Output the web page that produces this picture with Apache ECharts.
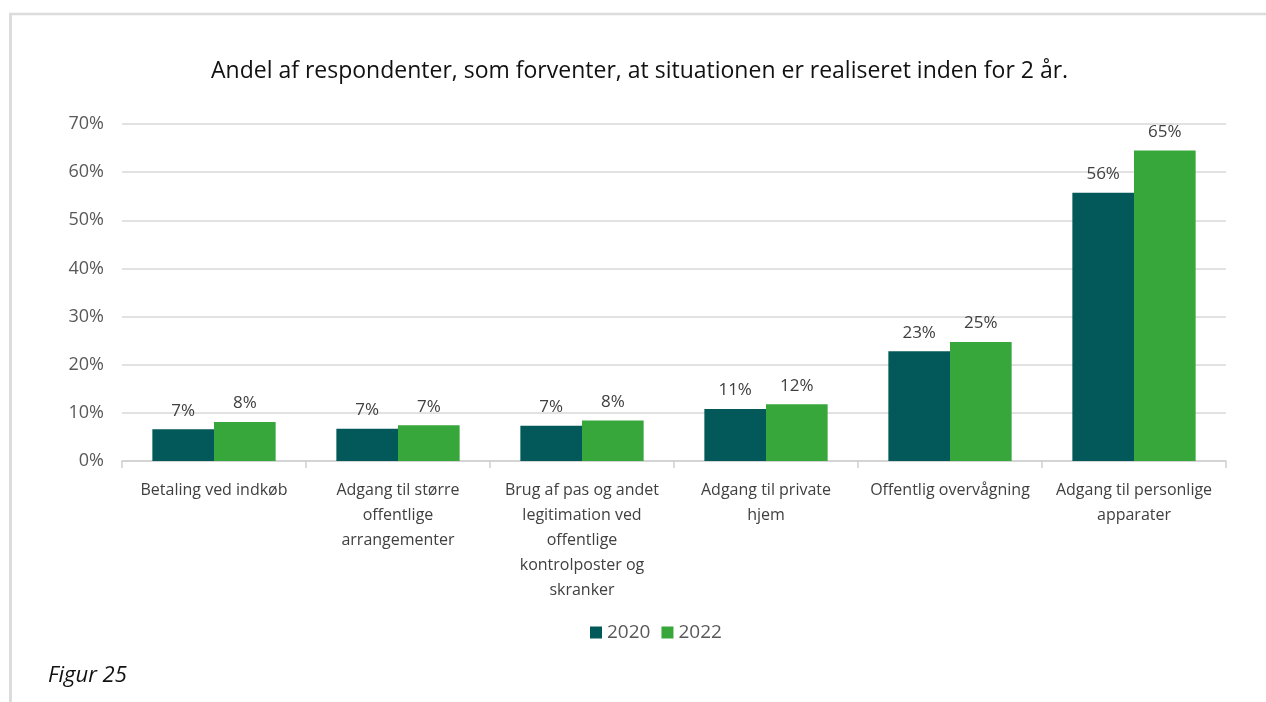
<!DOCTYPE html>
<html>
<head>
<meta charset="utf-8">
<script src="https://cdn.jsdelivr.net/npm/echarts@6/dist/echarts.min.js"></script>
<style>
html,body{margin:0;padding:0;background:#fff;}
#chart{width:1266px;height:702px;}
</style>
</head>
<body>
<div id="chart"></div>
<script>
const titleText = 'Andel af respondenter, som forventer, at situationen er realiseret inden for 2 år.';
const categories = [
  'Betaling ved indkøb',
  'Adgang til større\noffentlige\narrangementer',
  'Brug af pas og andet\nlegitimation ved\noffentlige\nkontrolposter og\nskranker',
  'Adgang til private\nhjem',
  'Offentlig overvågning',
  'Adgang til personlige\napparater'
];
const seriesNames = ['2020', '2022'];
const values2020 = [6.6, 6.7, 7.3, 10.8, 22.8, 55.7];
const values2022 = [8.1, 7.4, 8.4, 11.8, 24.7, 64.5];
const yTicks = [0, 10, 20, 30, 40, 50, 60, 70];
const captionText = 'Figur 25';

const FONT = 'Open Sans';
const chart = echarts.init(document.getElementById('chart'));
const labelCfg = {
  show: true, position: 'top', distance: 10,
  color: '#404040', fontFamily: FONT, fontSize: 17,
  formatter: p => Math.round(p.value) + '%'
};
chart.setOption({
  animation: false,
  textStyle: { fontFamily: FONT },
  title: {
    text: titleText, left: 206, top: 55,
    textStyle: { fontFamily: FONT, fontSize: 23, fontWeight: 'normal', color: '#111' }
  },
  legend: {
    data: seriesNames, top: 618, left: 585,
    itemWidth: 12, itemHeight: 12, itemGap: 11,
    icon: 'rect',
    textStyle: { fontFamily: FONT, fontSize: 19, color: '#595959' }
  },
  grid: { left: 122, right: 40, top: 124, bottom: 241 },
  xAxis: {
    type: 'category', data: categories,
    axisLine: { lineStyle: { color: '#d0d0d0', width: 1.5 } },
    axisTick: { show: true, length: 7, lineStyle: { color: '#d0d0d0', width: 1.5 } },
    axisLabel: { interval: 0, margin: 17, color: '#404040', fontFamily: FONT, fontSize: 16, lineHeight: 25, align: 'center' }
  },
  yAxis: {
    type: 'value', min: 0, max: 70, interval: 10,
    axisLine: { show: false }, axisTick: { show: false },
    splitLine: { lineStyle: { color: '#d9d9d9', width: 1.5 } },
    axisLabel: { margin: 18, color: '#595959', fontFamily: FONT, fontSize: 18,
      formatter: v => yTicks.includes(v) ? v + '%' : '' }
  },
  series: [
    { name: seriesNames[0], type: 'bar', data: values2020, barGap: '0%', barCategoryGap: '33%',
      itemStyle: { color: '#03585A' }, label: labelCfg },
    { name: seriesNames[1], type: 'bar', data: values2022, barGap: '0%', barCategoryGap: '33%',
      itemStyle: { color: '#37A63B' }, label: labelCfg }
  ],
  graphic: [
    { type: 'line', shape: { x1: 9, y1: 14, x2: 1266, y2: 14 }, style: { stroke: '#dcdcdc', lineWidth: 2.5 }, z: -1 },
    { type: 'line', shape: { x1: 10.5, y1: 13, x2: 10.5, y2: 702 }, style: { stroke: '#dcdcdc', lineWidth: 3 }, z: -1 },
    { type: 'text', left: 48, top: 665, style: { text: captionText, fontFamily: FONT, fontStyle: 'italic', fontSize: 22, fill: '#111' } }
  ]
});
</script>
</body>
</html>
